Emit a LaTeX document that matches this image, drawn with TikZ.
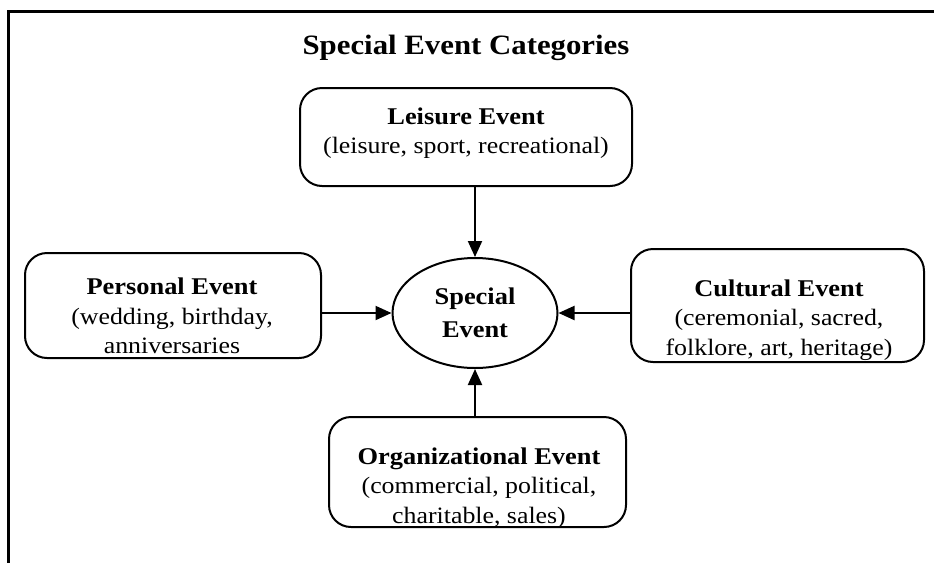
\documentclass[tikz,border=0pt]{standalone}
\usepackage{fontspec}
\setmainfont{Liberation Serif}[FakeStretch=1.1]
\usetikzlibrary{shapes.geometric,arrows.meta}
\newcommand{\headline}[1]{{\fontsize{24}{29}\selectfont\bfseries #1}}
\begin{document}
\begin{tikzpicture}[x=1pt,y=-1pt,
  catbox/.style={draw,line width=2pt,rounded corners=22pt,inner sep=0pt},
  cattext/.style={align=center,inner sep=0pt,font=\fontsize{23.5}{29.5}\selectfont},
  hub/.style={draw,ellipse,line width=2pt,align=center,inner sep=0pt,
    minimum width=165pt,minimum height=110pt,font=\fontsize{24}{33}\selectfont\bfseries},
  feed/.style={line width=2pt,-{Triangle[length=16pt,width=14pt]}},
  frame/.style={line width=3pt}]
\useasboundingbox (0,0) rectangle (934,563);
% open frame along the top and left edges
\draw[frame] (934,11) -- (8,11) -- (8,563);
\node[font=\fontsize{28}{32}\selectfont\bfseries] (title) at (466,48) {Special Event Categories};
% hub and the four category boxes
\node[hub] (core) at (475,313) {Special\\Event};
\node[catbox,minimum width=332pt,minimum height=98pt] (leisure) at (466,137) {};
\node[catbox,minimum width=296pt,minimum height=105pt] (personal) at (173,305.5) {};
\node[catbox,minimum width=293pt,minimum height=113pt] (cultural) at (777.5,305.5) {};
\node[catbox,minimum width=297pt,minimum height=110pt] (org) at (477.5,472) {};
\node[cattext] (leisuretext) at (466,133)
  {\headline{Leisure Event}\\(leisure, sport, recreational)};
\node[cattext] (personaltext) at (172,316)
  {\headline{Personal Event}\\(wedding, birthday,\\anniversaries};
\node[cattext] (culturaltext) at (779,320)
  {\headline{Cultural Event}\\(ceremonial, sacred,\\folklore, art, heritage)};
\node[cattext] (orgtext) at (479,488)
  {\headline{Organizational Event}\\(commercial, political,\\charitable, sales)};
% arrows into the hub
\draw[feed] (leisure.south -| core.north) -- (core.north);
\draw[feed] (org.north -| core.south) -- (core.south);
\draw[feed] (personal.east |- core.west) -- (core.west);
\draw[feed] (cultural.west |- core.east) -- (core.east);
\end{tikzpicture}
\end{document}
